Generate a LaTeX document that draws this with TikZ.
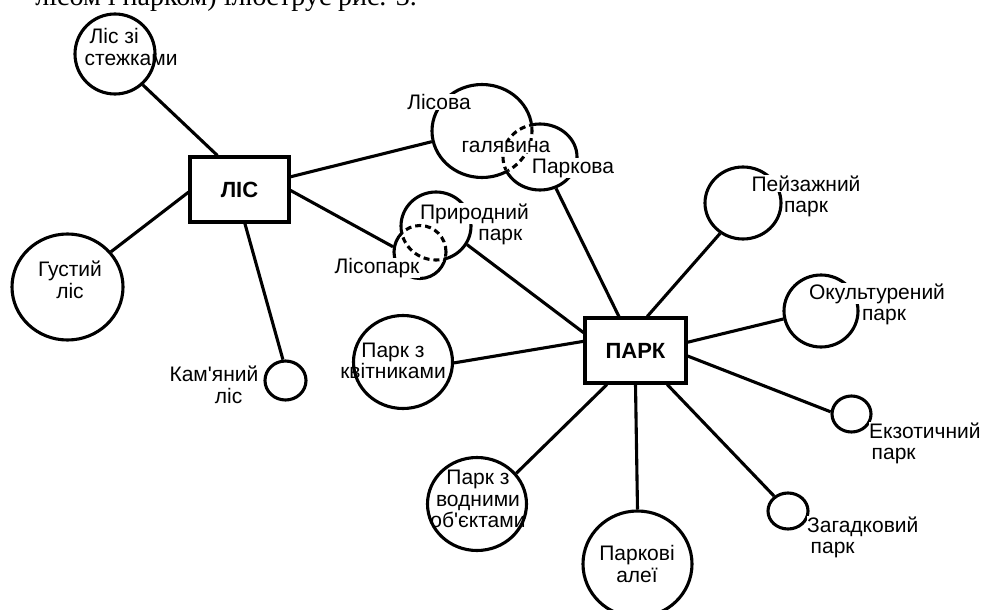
\documentclass[tikz,border=0pt]{standalone}
\usepackage{fontspec}
\setmainfont{Liberation Sans}
\newfontfamily\serifpart{Liberation Serif}
\usetikzlibrary{shapes.geometric}
\newcommand{\wb}[1]{{\setlength{\fboxsep}{0.5pt}\colorbox{white}{#1}}}
\begin{document}
\begin{tikzpicture}[x=1pt,y=-1pt,
  lw/.style={line width=3.1pt},
  bub/.style 2 args={ellipse, draw, lw, inner sep=0pt, outer sep=1.5pt, minimum width=#1, minimum height=#2},
  hub/.style={rectangle, draw, lw, inner sep=0pt, outer sep=1.5pt, minimum width=99pt, minimum height=65pt, font=\fontsize{22}{24}\selectfont\bfseries},
  lab/.style={font=\fontsize{21}{21.5}\selectfont, align=center, inner sep=0.5pt},
  link/.style={lw},
  lens/.style={lw, dash pattern=on 6pt off 4pt},
  erase/.style={draw=white, line width=5.5pt},
]
\useasboundingbox (0,0) rectangle (982,610);
\clip (0,0) rectangle (982,610);

% cut-off line of the page text above the figure
\node[anchor=base east, inner sep=0pt, font=\serifpart\fontsize{28}{28}\selectfont] (toptext) at (417,5.5)
  {лісом і парком) ілюструє рис. 3.};

% hubs
\node[hub] (les) at (239.5,189.5) {ЛІС};
\node[hub, minimum width=101pt] (park) at (635.5,350.5) {ПАРК};

% bubbles
\node[bub={80pt}{80pt}] (stezh) at (115,54) {};
\node[bub={111pt}{106pt}] (gust) at (67.5,287) {};
\node[bub={41pt}{39pt}] (kam) at (285.5,380.5) {};
\node[bub={100pt}{93pt}] (lisova) at (482,131) {};
\node[bub={74pt}{66pt}] (parkova) at (540,157) {};
\node[bub={70pt}{68pt}] (pryr) at (436,226) {};
\node[bub={52pt}{53pt}] (lisopark) at (420,252) {};
\node[bub={99pt}{93pt}] (kvit) at (403,362) {};
\node[bub={76pt}{72pt}] (peiz) at (743,203) {};
\node[bub={74pt}{72pt}] (okul) at (821,311) {};
\node[bub={39pt}{36pt}] (ekz) at (851.5,414) {};
\node[bub={40pt}{36pt}] (zag) at (788,511) {};
\node[bub={109pt}{106pt}] (alei) at (637.5,564) {};
\node[bub={99pt}{93pt}] (vodn) at (477,504) {};

% connectors
\draw[link] (les.123) -- (stezh.-48);
\draw[link] (les.14) -- (lisova.192);
\draw[link] (les.-1) -- (lisopark.169);
\draw[link] (les.183) -- (gust.39);
\draw[link] (les.-81) -- (kam.97);
\draw[link] (parkova.-63) -- (park.116);
\draw[link] (pryr.-31) -- (park.161);
\draw[link] (kvit.-1) -- (park.170);
\draw[link] (park.71) -- (peiz.-127);
\draw[link] (park.9) -- (okul.192);
\draw[link] (park.-6) -- (ekz.174);
\draw[link] (park.-47) -- (zag.133);
\draw[link] (park.south) -- (alei.north);
\draw[link] (park.-130) -- (vodn.38);

% overlapping parts shown dashed
\begin{scope}
  \clip (parkova.center) ellipse [x radius=35.3pt, y radius=31.3pt];
  \draw[erase] (lisova.center) ellipse [x radius=50pt, y radius=46.5pt];
  \draw[lens] (lisova.center) ellipse [x radius=50pt, y radius=46.5pt];
\end{scope}
\begin{scope}
  \clip (lisova.center) ellipse [x radius=48.3pt, y radius=44.8pt];
  \draw[erase] (parkova.center) ellipse [x radius=37pt, y radius=33pt];
  \draw[lens] (parkova.center) ellipse [x radius=37pt, y radius=33pt];
\end{scope}
\begin{scope}
  \clip (lisopark.center) ellipse [x radius=24.3pt, y radius=24.8pt];
  \draw[erase] (pryr.center) ellipse [x radius=35pt, y radius=34pt];
  \draw[lens] (pryr.center) ellipse [x radius=35pt, y radius=34pt];
\end{scope}
\begin{scope}
  \clip (pryr.center) ellipse [x radius=33.3pt, y radius=32.3pt];
  \draw[erase] (lisopark.center) ellipse [x radius=26pt, y radius=26.5pt];
  \draw[lens] (lisopark.center) ellipse [x radius=26pt, y radius=26.5pt];
\end{scope}

% labels
\node[lab, align=left, anchor=west] (t_stezh) at (84,47) {\hspace*{5pt}Ліс зі\\стежками};
\node[lab] (t_gust) at (70,280) {Густий\\ліс};
\node[lab, align=right, anchor=east] (t_kam) at (259,385) {Кам\textquotesingle яний\\ліс\hspace*{16pt}};
\node[lab] (t_lisova) at (439,102) {\wb{Лісова}};
\node[lab] (t_galyav) at (506,147) {\wb{галявина}};
\node[lab] (t_parkova) at (573,168) {\wb{Паркова}};
\node[lab, align=right, anchor=east] (t_pryr) at (530,224) {\wb{Природний}\\парк\hspace*{7pt}};
\node[lab] (t_lisopark) at (377,268) {\wb{Лісопарк}};
\node[lab] (t_kvit) at (393,361) {Парк з\\квітниками};
\node[lab] (t_peiz) at (806,196) {\wb{Пейзажний}\\парк};
\node[lab] (t_okul) at (877,304) {\wb{Окультурений}\\\hspace*{14pt}парк};
\node[lab, align=left, anchor=west] (t_ekz) at (868,443) {\wb{Екзотичний}\\\hspace*{3pt}парк};
\node[lab, align=left, anchor=west] (t_zag) at (806,537) {\wb{Загадковий}\\\hspace*{4pt}парк};
\node[lab] (t_alei) at (637,564) {Паркові\\алеї};
\node[lab] (t_vodn) at (478,499) {Парк з\\водними\\об\textquotesingle єктами};
\end{tikzpicture}
\end{document}
